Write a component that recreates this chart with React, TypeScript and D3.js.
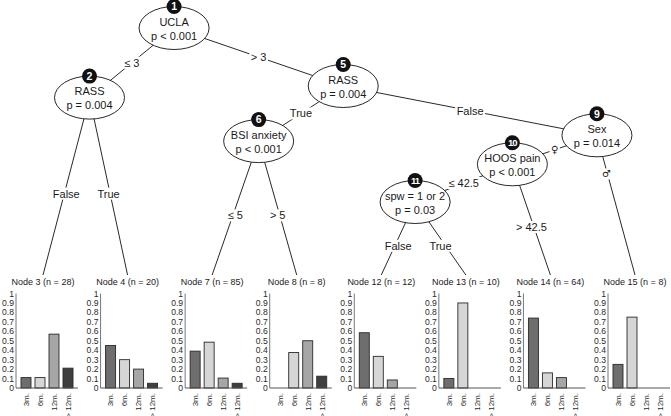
import React, { useEffect, useRef } from 'react';
import * as d3 from 'd3';

// follow-up categories shown in every terminal node
const categories = ['3m.', '6m.', '12m.', '> 12m.'];
const barColors = ['#6e6e6e', '#d6d6d6', '#a6a6a6', '#3f3f3f'];

// terminal nodes, left to right
const terminalIds = [3, 4, 7, 8, 12, 13, 14, 15];
const terminalN = [28, 20, 85, 8, 12, 10, 64, 8];
const share3m = [0.11, 0.45, 0.39, 0, 0.585, 0.1, 0.74, 0.25];
const share6m = [0.11, 0.3, 0.485, 0.375, 0.335, 0.9, 0.16, 0.75];
const share12m = [0.57, 0.2, 0.105, 0.5, 0.085, 0, 0.11, 0];
const shareOver12m = [0.21, 0.05, 0.05, 0.125, 0, 0, 0, 0];

// inner (split) nodes
const innerIds = [1, 2, 5, 6, 9, 10, 11];
const innerVariables = ['UCLA', 'RASS', 'RASS', 'BSI anxiety', 'Sex', 'HOOS pain', 'spw = 1 or 2'];
const innerPValues = ['p < 0.001', 'p = 0.004', 'p = 0.004', 'p < 0.001', 'p = 0.014', 'p < 0.001', 'p = 0.03'];
const innerRows = [0, 1.2, 1, 1.95, 1.85, 2.35, 3];

// edges parent -> child with split labels
const edgeFrom = [1, 1, 2, 2, 5, 5, 6, 6, 9, 9, 10, 10, 11, 11];
const edgeTo = [2, 5, 3, 4, 6, 9, 7, 8, 10, 15, 11, 14, 12, 13];
const edgeLabels = ['≤ 3', '> 3', 'False', 'True', 'True', 'False', '≤ 5', '> 5', '♀', '♂', '≤ 42.5', '> 42.5', 'False', 'True'];

const yTicks = d3.range(0, 11).map(d => d / 10);

const W = 671;
const H = 416;
const FONT = '"Liberation Sans", Arial, Helvetica, sans-serif';

const App: React.FC = () => {
  const svgRef = useRef<SVGSVGElement>(null);

  useEffect(() => {
    if (!svgRef.current) return;
    const svg = d3.select(svgRef.current);
    svg.selectAll('*').remove();

    const children = new Map<number, number[]>();
    edgeFrom.forEach((p, i) => {
      if (!children.has(p)) children.set(p, []);
      children.get(p)!.push(edgeTo[i]);
    });

    // leaf ranges, partykit style: inner node sits after its left subtree
    const leafIndex = new Map<number, number>();
    terminalIds.forEach((id, i) => leafIndex.set(id, i));
    const leftmost = (id: number): number =>
      children.has(id) ? leftmost(children.get(id)![0]) : leafIndex.get(id)!;
    const width = (id: number): number =>
      children.has(id) ? d3.sum(children.get(id)!, width) : 1;

    const slotX = d3.scaleLinear().domain([0, terminalIds.length - 1]).range([43, 635]);
    const rowY = d3.scaleLinear().domain([0, 3]).range([28, 202]);
    const slotNudge: Record<number, number> = { 11: -0.15 };

    const pos = new Map<number, { x: number; y: number }>();
    innerIds.forEach((id, i) => {
      const slot = leftmost(id) + width(children.get(id)![0]) - 0.5 + 0.05 + (slotNudge[id] || 0);
      pos.set(id, { x: slotX(slot), y: rowY(innerRows[i]) });
    });
    terminalIds.forEach((id, i) => pos.set(id, { x: slotX(i), y: 275 }));

    const rx = 35;
    const ry = 21.5;

    // edges
    const gEdges = svg.append('g');
    const gLabels = svg.append('g');
    edgeFrom.forEach((p, i) => {
      const a = pos.get(p)!;
      const b = pos.get(edgeTo[i])!;
      const isLeaf = leafIndex.has(edgeTo[i]);
      gEdges.append('line')
        .attr('x1', a.x).attr('y1', a.y)
        .attr('x2', b.x).attr('y2', b.y)
        .attr('stroke', '#111')
        .attr('stroke-width', 0.9);

      const t = edgeLabels[i] === '♂' ? 0.25 : 0.5;
      const by = isLeaf ? 290 : b.y;
      const lx = a.x + (b.x - a.x) * t;
      const ly = a.y + (by - a.y) * t;
      const isSymbol = edgeLabels[i] === '♀' || edgeLabels[i] === '♂';
      const g = gLabels.append('g');
      const rect = g.append('rect').attr('fill', '#fff');
      const txt = g.append('text')
        .attr('x', lx).attr('y', ly)
        .attr('dy', '0.35em')
        .attr('text-anchor', 'middle')
        .attr('fill', '#1a1a1a')
        .style('font-family', isSymbol ? '"DejaVu Sans", sans-serif' : FONT)
        .style('font-size', isSymbol ? '10px' : '11px')
        .text(edgeLabels[i]);
      const bb = (txt.node() as SVGTextElement).getBBox();
      rect.attr('x', bb.x - 1.5).attr('y', bb.y)
        .attr('width', bb.width + 3).attr('height', bb.height);
    });

    // inner nodes
    innerIds.forEach((id, i) => {
      const { x, y } = pos.get(id)!;
      const g = svg.append('g');
      g.append('ellipse')
        .attr('cx', x).attr('cy', y)
        .attr('rx', rx).attr('ry', ry)
        .attr('fill', '#fff')
        .attr('stroke', '#111')
        .attr('stroke-width', 0.9);
      g.append('text')
        .attr('x', x).attr('y', y - 2.5)
        .attr('text-anchor', 'middle')
        .attr('fill', '#1a1a1a')
        .style('font-family', FONT)
        .style('font-size', '11px')
        .text(innerVariables[i]);
      g.append('text')
        .attr('x', x).attr('y', y + 11.5)
        .attr('text-anchor', 'middle')
        .attr('fill', '#1a1a1a')
        .style('font-family', FONT)
        .style('font-size', '11px')
        .text(innerPValues[i]);
      g.append('circle')
        .attr('cx', x).attr('cy', y - ry)
        .attr('r', 7.5)
        .attr('fill', '#111');
      const twoDigit = id >= 10;
      g.append('text')
        .attr('x', x).attr('y', y - ry)
        .attr('dy', '0.36em')
        .attr('text-anchor', 'middle')
        .attr('fill', '#fff')
        .style('font-family', FONT)
        .style('font-weight', 'bold')
        .style('font-size', twoDigit ? '9.5px' : '10.5px')
        .style('letter-spacing', twoDigit ? '-0.8px' : '0px')
        .text(String(id));
    });

    // terminal nodes
    const y = d3.scaleLinear().domain([0, 1]).range([388, 293.5]);
    const shares = terminalIds.map((_, i) => [share3m[i], share6m[i], share12m[i], shareOver12m[i]]);

    terminalIds.forEach((id, i) => {
      const c = slotX(i);
      const axisX = c - 27;
      const x = d3.scaleBand<string>()
        .domain(categories)
        .range([axisX, c + 35])
        .paddingInner(0.2857)
        .paddingOuter(0.357);
      const g = svg.append('g');

      g.append('text')
        .attr('x', c).attr('y', 285)
        .attr('text-anchor', 'middle')
        .attr('fill', '#1a1a1a')
        .style('font-family', FONT)
        .style('font-size', '9px')
        .text(`Node ${id} (n = ${terminalN[i]})`);

      g.append('line')
        .attr('x1', axisX).attr('x2', axisX)
        .attr('y1', y(1)).attr('y2', y(0))
        .attr('stroke', '#777')
        .attr('stroke-width', 1);

      g.selectAll('text.tick')
        .data(yTicks)
        .join('text')
        .attr('class', 'tick')
        .attr('x', axisX - 2)
        .attr('y', d => y(d))
        .attr('dy', '0.35em')
        .attr('text-anchor', 'end')
        .attr('fill', '#2a2a2a')
        .style('font-family', FONT)
        .style('font-size', '8.6px')
        .text(d => d3.format('~g')(d));

      g.selectAll('rect.bar')
        .data(shares[i].map((v, k) => ({ v, k })).filter(d => d.v > 0))
        .join('rect')
        .attr('class', 'bar')
        .attr('x', d => x(categories[d.k])!)
        .attr('width', x.bandwidth())
        .attr('y', d => y(d.v))
        .attr('height', d => y(0) - y(d.v))
        .attr('fill', d => barColors[d.k])
        .attr('stroke', '#2a2a2a')
        .attr('stroke-width', 0.9);

      g.append('line')
        .attr('x1', axisX).attr('x2', c + 35)
        .attr('y1', y(0)).attr('y2', y(0))
        .attr('stroke', '#555')
        .attr('stroke-width', 1);

      g.selectAll('text.cat')
        .data(categories)
        .join('text')
        .attr('class', 'cat')
        .attr('transform', d => `translate(${x(d)! + x.bandwidth() / 2},${y(0) + 5}) rotate(-90)`)
        .attr('dy', '0.35em')
        .attr('text-anchor', 'end')
        .attr('fill', '#2a2a2a')
        .style('font-family', FONT)
        .style('font-size', '8px')
        .text(d => d);
    });
  }, []);

  return (
    <svg
      ref={svgRef}
      width={W}
      height={H}
      style={{ position: 'absolute', left: 0, top: 0, background: '#fff' }}
    />
  );
};

export default App;
